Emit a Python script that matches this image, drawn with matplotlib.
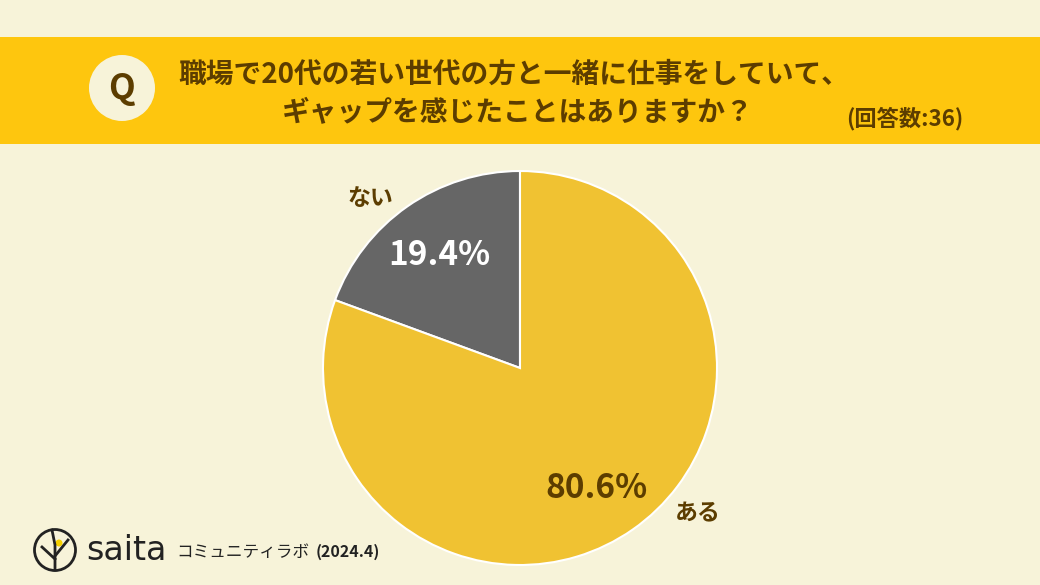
"""Pie chart: workplace gap with 20s colleagues (saita survey)."""
import matplotlib
matplotlib.use("Agg")
import matplotlib.pyplot as plt
from matplotlib.patches import Rectangle, Circle

BG = "#f7f3d9"
BANNER = "#fec60e"
BROWN = "#5c3d00"
YELLOW = "#f0c232"
GREY = "#666666"

plt.rcParams["font.family"] = ["Noto Sans CJK JP", "DejaVu Sans"]

# ---- data ----
labels = ["ない", "ある"]
values = [19.4, 80.6]
colors = [GREY, YELLOW]
pct_colors = ["white", BROWN]

fig = plt.figure(figsize=(10.4, 5.85), dpi=100, facecolor=BG)
bg = fig.add_axes([0, 0, 1, 1])
bg.set_xlim(0, 1040); bg.set_ylim(585, 0); bg.axis("off")

# header banner
bg.add_patch(Rectangle((0, 37), 1040, 107, fc=BANNER, ec="none"))
bg.add_patch(Circle((122, 88), 33, fc=BG, ec="none"))
bg.text(122, 89, "Q", fontsize=25, fontweight="bold", color=BROWN, ha="center", va="center")
bg.text(514, 75, "職場で20代の若い世代の方と一緒に仕事をしていて、", fontsize=20,
        fontweight="bold", color=BROWN, ha="center", va="center")
bg.text(518, 113, "ギャップを感じたことはありますか？", fontsize=20,
        fontweight="bold", color=BROWN, ha="center", va="center")
bg.text(905, 119, "(回答数:36)", fontsize=16, fontweight="bold", color=BROWN,
        ha="center", va="center")

# footer logo (rough)
bg.add_patch(Circle((55, 550), 20.5, fc="none", ec="#222222", lw=2))
bg.add_patch(Circle((59, 543), 3.5, fc="#f5d000", ec="none"))
bg.plot([52, 55, 55], [530, 545, 570], color="#222222", lw=2)
bg.plot([55, 68], [556, 540], color="#222222", lw=2)
bg.plot([55, 42], [559, 547], color="#222222", lw=2)
bg.text(86, 550, "saita", fontsize=24, color="#222222", ha="left", va="center",
        family=["DejaVu Sans"])
bg.text(176, 552, "コミュニティラボ", fontsize=12, color="#222222", ha="left", va="center")
bg.text(316, 552, "(2024.4)", fontsize=11.5, fontweight="bold", color="#222222",
        ha="left", va="center")

# ---- pie ----
cx, cy, r = 520, 368, 197
ax = fig.add_axes([(cx - r) / 1040, (585 - cy - r) / 585, 2 * r / 1040, 2 * r / 585])
ax.set_facecolor("none")
wedges, _ = ax.pie(values, colors=colors, startangle=90, counterclock=True,
                   radius=1, wedgeprops=dict(ec="white", lw=1.5))
ax.set_xlim(-1, 1); ax.set_ylim(-1, 1)

# percentage labels (axes-data coords)
pct_pos = [(-0.41, 0.57), (0.39, -0.61)]
for v, (x, y), c in zip(values, pct_pos, pct_colors):
    ax.text(x, y, f"{v}%", fontsize=24, fontweight="bold", color=c,
            ha="center", va="center")
name_pos = [(-0.76, 0.86), (0.90, -0.74)]
for lab, (x, y) in zip(labels, name_pos):
    ax.text(x, y, lab, fontsize=16.5, fontweight="bold", color=BROWN,
            ha="center", va="center", clip_on=False)

fig.savefig("out.png", dpi=100, facecolor=BG)
